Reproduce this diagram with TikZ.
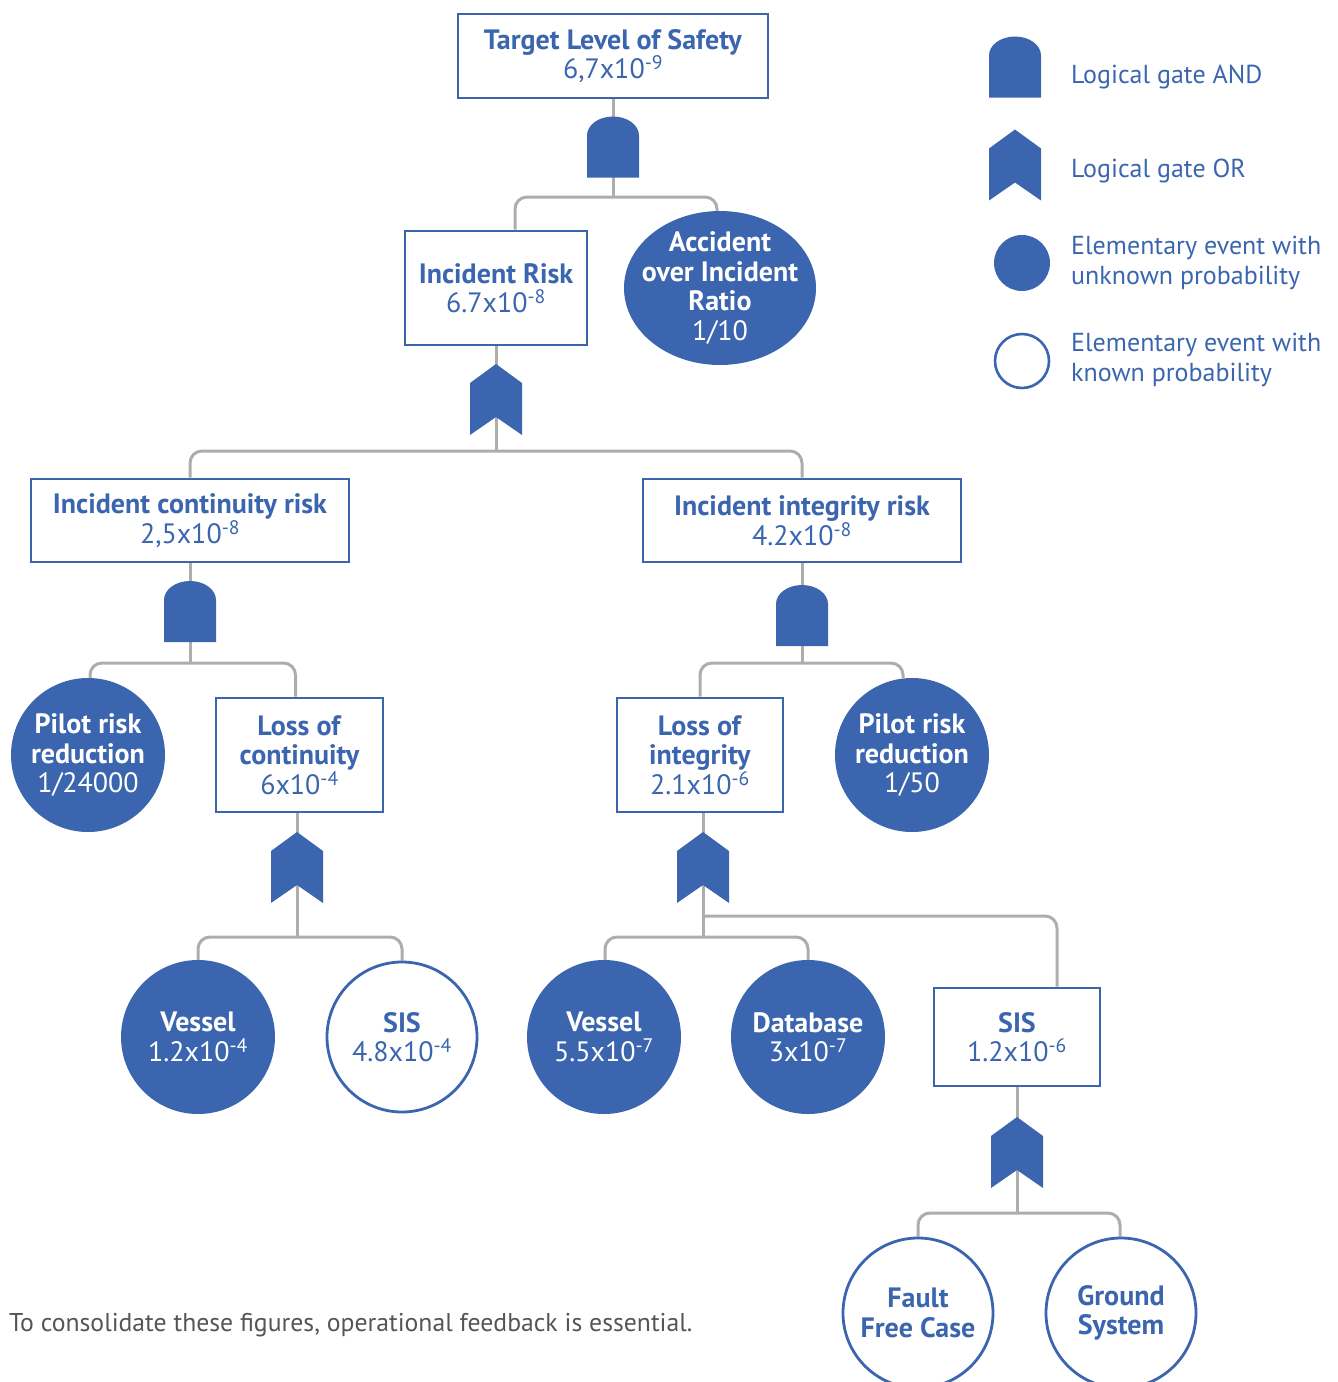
\documentclass[tikz,border=0pt]{standalone}
\usepackage{fontspec}
\setmainfont{PT Sans}
\usetikzlibrary{shapes.geometric,backgrounds}
\definecolor{fblue}{HTML}{3B66AF}
\definecolor{lgrey}{HTML}{ADADAD}
\definecolor{ftext}{HTML}{555555}
\tikzset{
  txt/.style={font=\fontsize{28}{29.5}\selectfont, align=center},
  box/.style={txt, draw=fblue, line width=2.8pt, fill=white, inner sep=0pt, text=fblue},
  evu/.style={txt, circle, fill=fblue, text=white, inner sep=0pt},
  evk/.style={txt, circle, draw=fblue, line width=2.8pt, fill=white, text=fblue, inner sep=0pt},
  conn/.style={draw=lgrey, line width=3pt, rounded corners=12pt},
  andgate/.style={rectangle, inner sep=0pt, minimum width=52pt, minimum height=61pt,
    path picture={\fill[fblue] (path picture bounding box.south west) -- ++(0pt,42pt)
      arc[start angle=180, end angle=0, x radius=26pt, y radius=19pt] -- ++(0pt,-42pt) -- cycle;}},
  orgate/.style={rectangle, inner sep=0pt, minimum width=52pt, minimum height=71pt,
    path picture={\fill[fblue] (path picture bounding box.south west) -- ++(0pt,52pt)
      -- ++(26pt,19pt) -- ++(26pt,-19pt) -- ++(0pt,-52pt) -- ++(-26pt,18pt) -- cycle;}},
  legtxt/.style={font=\fontsize{26}{29.5}\selectfont, text=fblue, anchor=west, align=left, inner sep=0pt}
}
\begin{document}
\begin{tikzpicture}[x=1pt,y=-1pt]
\useasboundingbox (0,0) rectangle (1338,1382);
\begin{scope}
\clip (0,0) rectangle (1338,1382);
% ---- nodes
\node[box, minimum width=310pt, minimum height=84pt] (tls) at (613,56) {\textbf{Target Level of Safety}\\6,7x10\textsuperscript{-9}};
\node[andgate] (g1) at (613,147) {};
\node[box, minimum width=182pt, minimum height=114pt] (ir) at (496,288) {\textbf{Incident Risk}\\6.7x10\textsuperscript{-8}};
\node[evu, ellipse, inner xsep=-14pt, inner ysep=-8pt, minimum width=192pt, minimum height=154pt] (acc) at (720,288) {\textbf{Accident}\\\textbf{over Incident}\\\textbf{Ratio}\\1/10};
\node[orgate] (g2) at (496,399.5) {};
\node[box, minimum width=318pt, minimum height=83pt] (icr) at (190,520.5) {\textbf{Incident continuity risk}\\2,5x10\textsuperscript{-8}};
\node[box, minimum width=318pt, minimum height=83pt] (iir) at (802,520.5) {\textbf{Incident integrity risk}\\4.2x10\textsuperscript{-8}};
\node[andgate] (g3) at (190,611.5) {};
\node[andgate] (g4) at (802,615.5) {};
\node[evu, minimum size=154pt] (prr1) at (88,755) {\textbf{Pilot risk}\\\textbf{reduction}\\1/24000};
\node[box, minimum width=167pt, minimum height=114pt] (loc) at (299.5,755) {\textbf{Loss of}\\\textbf{continuity}\\6x10\textsuperscript{-4}};
\node[box, minimum width=166pt, minimum height=114pt] (loi) at (700,755) {\textbf{Loss of}\\\textbf{integrity}\\2.1x10\textsuperscript{-6}};
\node[evu, minimum size=154pt] (prr2) at (912,755) {\textbf{Pilot risk}\\\textbf{reduction}\\1/50};
\node[orgate] (g5) at (297,867.5) {};
\node[orgate] (g6) at (703,867.5) {};
\node[evu, minimum size=154pt] (v1) at (198,1037) {\textbf{Vessel}\\1.2x10\textsuperscript{-4}};
\node[evk, minimum size=150pt] (sis1) at (402,1037) {\textbf{SIS}\\4.8x10\textsuperscript{-4}};
\node[evu, minimum size=154pt] (v2) at (604,1037) {\textbf{Vessel}\\5.5x10\textsuperscript{-7}};
\node[evu, minimum size=154pt] (db) at (808,1037) {\textbf{Database}\\3x10\textsuperscript{-7}};
\node[box, minimum width=166pt, minimum height=98pt] (sis2) at (1017,1037) {\textbf{SIS}\\1.2x10\textsuperscript{-6}};
\node[orgate] (g7) at (1017,1152.5) {};
\node[evk, minimum size=150pt] (ffc) at (918,1313) {\textbf{Fault}\\\textbf{Free Case}};
\node[evk, minimum size=150pt] (gs) at (1121,1313) {\textbf{Ground}\\\textbf{System}};
% ---- legend
\node[andgate, minimum width=53pt] (la) at (1015.5,67) {};
\node[orgate, minimum width=53pt] (lo) at (1015.5,165) {};
\node[circle, fill=fblue, minimum size=56pt, inner sep=0pt] (lc) at (1022,263) {};
\node[circle, draw=fblue, line width=2.6pt, fill=white, minimum size=54pt, inner sep=0pt] (lk) at (1022,361) {};
\node[legtxt] (lat) at (1071,77) {Logical gate AND};
\node[legtxt] (lot) at (1071,171) {Logical gate OR};
\node[legtxt] (lct) at (1071,263) {Elementary event with\\unknown probability};
\node[legtxt] (lkt) at (1071,360) {Elementary event with\\known probability};
% ---- footer
\node[font=\fontsize{25.7}{28}\selectfont, text=ftext, anchor=west, inner sep=0pt] (foot) at (9,1325) {To consolidate these figures, operational feedback is essential.};
% ---- bus points
\coordinate (b1) at (613,197);
\coordinate (b2) at (496,451);
\coordinate (b3) at (190,663);
\coordinate (b6) at (802,663);
\coordinate (b4) at (297,937);
\coordinate (b5) at (703,937);
\coordinate (b5a) at (703,916);
\coordinate (b7) at (1017,1213);
\end{scope}
% ---- connectors
\begin{pgfonlayer}{background}
\draw[conn] (tls.south) -- (b1);
\draw[conn] ([xshift=19pt]ir.north) |- (b1) -| ([xshift=-3pt]acc.north);
\draw[conn] (ir.south) -- (b2);
\draw[conn] (icr.north) |- (b2) -| (iir.north);
\draw[conn] (icr.south) -- (b3);
\draw[conn] ([xshift=2pt]prr1.north) |- (b3) -| ([xshift=-4pt]loc.north);
\draw[conn] (iir.south) -- (b6);
\draw[conn] (loi.north) |- (b6) -| ([xshift=-9pt]prr2.north);
\draw[conn] (g5.north |- loc.south) -- (b4);
\draw[conn] (v1.north) |- (b4) -| (sis1.north);
\draw[conn] (g6.north |- loi.south) -- (b5);
\draw[conn] ([xshift=1pt]v2.north) |- (b5) -| (db.north);
\draw[conn] (b5a) -| ([xshift=40pt]sis2.north);
\draw[conn] (sis2.south) -- (b7);
\draw[conn] (ffc.north) |- (b7) -| ([xshift=-1pt]gs.north);
\end{pgfonlayer}
\end{tikzpicture}
\end{document}
